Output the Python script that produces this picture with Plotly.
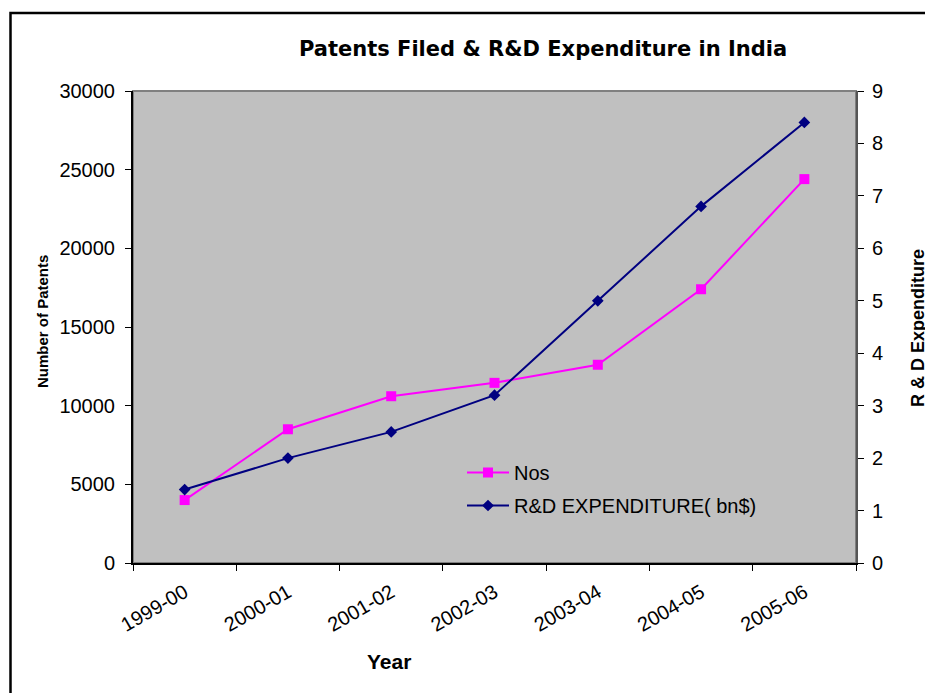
import plotly.graph_objects as go

years = ["1999-00", "2000-01", "2001-02", "2002-03", "2003-04", "2004-05", "2005-06"]
patents = [4000, 8500, 10600, 11450, 12600, 17400, 24400]
rd_exp = [1.4, 2.0, 2.5, 3.2, 5.0, 6.8, 8.4]

font_family = "Liberation Sans, Arial, sans-serif"

# plot area in page pixels: x 133..856, y 91..563 (page body has an 8px margin)
def px(x):
    return (x - 133) / 723.0

def py(y):
    return (563 - y) / 472.0

fig = go.Figure()
fig.add_trace(go.Scatter(
    x=years, y=patents, name="Nos", mode="lines+markers",
    line=dict(color="#FF00FF", width=2),
    marker=dict(symbol="square", size=10, color="#FF00FF"),
    legendgroup="a", yaxis="y"))
fig.add_trace(go.Scatter(
    x=years, y=rd_exp, name="R&D EXPENDITURE( bn$)", mode="lines+markers",
    line=dict(color="#000080", width=2),
    marker=dict(symbol="diamond", size=9, color="#000080"),
    legendgroup="b", yaxis="y2"))

fig.update_layout(
    width=925, height=685,
    margin=dict(l=125, r=77, t=83, b=130, autoexpand=False),
    paper_bgcolor="white",
    plot_bgcolor="#C0C0C0",
    font=dict(family=font_family, size=20, color="black"),
    showlegend=True,
    legend=dict(x=px(462), y=py(453), xanchor="left", yanchor="top",
                bgcolor="rgba(0,0,0,0)", font=dict(size=20),
                itemwidth=42, tracegroupgap=4),
    xaxis=dict(
        type="category", tickangle=-30, tickson="boundaries",
        ticks="outside", ticklen=6, tickcolor="black",
        showline=True, linecolor="black", linewidth=2,
        showgrid=False, zeroline=False,
        tickfont=dict(size=20), ticklabelstandoff=8,
        range=[-0.5, 6.5]),
    yaxis=dict(
        range=[0, 30000], dtick=5000, tickformat="d", showgrid=False, zeroline=False,
        ticks="outside", ticklen=6, tickcolor="black",
        showline=True, linecolor="black", linewidth=2,
        tickfont=dict(size=20), ticklabelstandoff=6),
    yaxis2=dict(
        range=[0, 9], dtick=1, overlaying="y", side="right",
        showgrid=False, zeroline=False,
        ticks="outside", ticklen=6, tickcolor="black",
        showline=True, linecolor="#555555", linewidth=2,
        tickfont=dict(size=20), ticklabelstandoff=4),
    annotations=[
        dict(text="<b>Patents Filed & R&D Expenditure in India</b>",
             xref="paper", yref="paper", x=px(543), y=py(49),
             xanchor="center", yanchor="middle", showarrow=False,
             font=dict(size=21, family="DejaVu Sans, sans-serif")),
        dict(text="<b>Year</b>", xref="paper", yref="paper",
             x=px(389), y=py(661), xanchor="center", yanchor="middle",
             showarrow=False, font=dict(size=21)),
        dict(text="<b>Number of Patents</b>", xref="paper", yref="paper",
             x=px(42), y=py(322), xanchor="center", yanchor="middle",
             showarrow=False, textangle=-90, font=dict(size=15)),
        dict(text="<b>R & D Expenditure</b>", xref="paper", yref="paper",
             x=px(918), y=py(328), xanchor="center", yanchor="middle",
             showarrow=False, textangle=-90, font=dict(size=18)),
    ],
    shapes=[
        dict(type="rect", xref="paper", yref="paper", x0=0, x1=1, y0=0, y1=1,
             line=dict(color="#808080", width=2), layer="below"),
        dict(type="rect", xref="paper", yref="paper",
             x0=px(10.5), x1=px(945), y0=py(705), y1=py(13),
             line=dict(color="black", width=2.5)),
    ],
)

fig.write_html("out.html")
